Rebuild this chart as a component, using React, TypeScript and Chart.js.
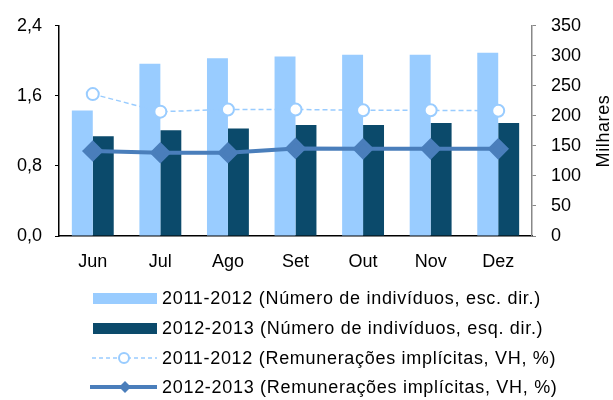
import React, { useEffect, useRef } from "react";
import { Chart, registerables } from "chart.js";

Chart.register(...registerables);

const months = ["Jun", "Jul", "Ago", "Set", "Out", "Nov", "Dez"];
const individuos1112 = [209, 287, 296, 299, 302, 302, 305];
const individuos1213 = [166, 176, 179, 185, 185, 188, 188];
const remun1112 = [1.62, 1.42, 1.445, 1.445, 1.435, 1.435, 1.43];
const remun1213 = [0.97, 0.95, 0.95, 1.0, 0.995, 0.995, 0.995];

const legendLabels = [
  "2011-2012 (Número de indivíduos, esc. dir.)",
  "2012-2013 (Número de indivíduos, esq. dir.)",
  "2011-2012 (Remunerações implícitas, VH, %)",
  "2012-2013 (Remunerações implícitas, VH, %)",
];
const rightAxisTitle = "Milhares";

const LIGHT = "#99CCFF";
const DARK = "#0B4A6B";
const LINE = "#4A7EBB";
const FONT = "'Liberation Sans', Arial, sans-serif";

export default function App() {
  const ref = useRef<HTMLCanvasElement | null>(null);

  useEffect(() => {
    if (!ref.current) return;
    const chart = new Chart(ref.current, {
      type: "bar",
      data: {
        labels: months,
        datasets: [
          {
            type: "line",
            label: legendLabels[2],
            data: remun1112,
            yAxisID: "y",
            borderColor: LIGHT,
            borderWidth: 1.5,
            borderDash: [5, 3],
            pointStyle: "circle",
            pointRadius: 6,
            pointBackgroundColor: "#ffffff",
            pointBorderColor: LIGHT,
            pointBorderWidth: 2,
            order: 0,
          },
          {
            type: "line",
            label: legendLabels[3],
            data: remun1213,
            yAxisID: "y",
            borderColor: LINE,
            borderWidth: 4,
            pointStyle: "rectRot",
            pointRadius: 8,
            pointBackgroundColor: LINE,
            pointBorderColor: LINE,
            order: 0,
          },
          {
            type: "bar",
            label: legendLabels[0],
            data: individuos1112,
            yAxisID: "y1",
            backgroundColor: LIGHT,
            barPercentage: 1,
            categoryPercentage: 0.62,
            order: 1,
          },
          {
            type: "bar",
            label: legendLabels[1],
            data: individuos1213,
            yAxisID: "y1",
            backgroundColor: DARK,
            barPercentage: 1,
            categoryPercentage: 0.62,
            order: 1,
          },
        ],
      },
      options: {
        responsive: false,
        animation: false,
        layout: { padding: { top: 25, left: 0, right: 0, bottom: 0 } },
        plugins: { legend: { display: false }, tooltip: { enabled: false } },
        scales: {
          x: {
            grid: { display: false, drawTicks: false },
            border: { display: true, color: "#000000", width: 1.5 },
            ticks: { color: "#000", font: { family: FONT, size: 18 }, padding: 15 },
            afterFit: (s: any) => {
              s.height = 44;
            },
          },
          y: {
            position: "left",
            min: 0,
            max: 2.4,
            grid: { drawOnChartArea: false, drawTicks: true, tickLength: 4, color: "#000" },
            border: { display: true, color: "#000000", width: 1.5 },
            ticks: {
              stepSize: 0.8,
              color: "#000",
              padding: 13,
              font: { family: FONT, size: 18 },
              callback: (v: any) => Number(v).toFixed(1).replace(".", ","),
            },
            afterFit: (s: any) => {
              s.width = 59;
            },
          },
          y1: {
            position: "right",
            min: 0,
            max: 350,
            grid: { drawOnChartArea: false, drawTicks: true, tickLength: 4, color: "#888" },
            border: { display: true, color: "#888888", width: 1.5 },
            ticks: {
              stepSize: 50,
              color: "#000",
              padding: 15,
              font: { family: FONT, size: 18 },
            },
            afterFit: (s: any) => {
              s.width = 81;
            },
          },
        },
      },
    });
    return () => chart.destroy();
  }, []);

  const textStyle: React.CSSProperties = {
    position: "absolute",
    left: 162,
    fontFamily: FONT,
    fontSize: 18,
    color: "#000",
    whiteSpace: "nowrap",
    lineHeight: "20px",
    letterSpacing: "0.7px",
  };
  const rows = [298, 328, 358, 387];

  return (
    <div style={{ position: "absolute", left: 0, top: 0, width: 613, height: 400, background: "#fff" }}>
      <canvas ref={ref} width={613} height={280} style={{ position: "absolute", left: 0, top: 0 }} />
      <div
        style={{
          position: "absolute",
          left: 603,
          top: 131,
          transform: "translate(-50%, -50%) rotate(-90deg)",
          fontFamily: FONT,
          fontSize: 18,
          color: "#000",
          whiteSpace: "nowrap",
          lineHeight: "20px",
          letterSpacing: "0.6px",
        }}
      >
        {rightAxisTitle}
      </div>
      <svg width={613} height={400} style={{ position: "absolute", left: 0, top: 0 }}>
        <rect x={93} y={rows[0] - 5} width={64} height={11} fill={LIGHT} />
        <rect x={93} y={rows[1] - 5} width={64} height={11} fill={DARK} />
        <line x1={92} y1={rows[2]} x2={157} y2={rows[2]} stroke={LIGHT} strokeWidth={1.5} strokeDasharray="4 3" />
        <circle cx={124} cy={rows[2]} r={5} fill="#fff" stroke={LIGHT} strokeWidth={2} />
        <line x1={90} y1={rows[3]} x2={157} y2={rows[3]} stroke={LINE} strokeWidth={4} />
        <polygon
          points={`125,${rows[3] - 6} 131,${rows[3]} 125,${rows[3] + 6} 119,${rows[3]}`}
          fill={LINE}
        />
      </svg>
      {legendLabels.map((t, i) => (
        <div key={i} style={{ ...textStyle, top: rows[i] - 10 }}>
          {t}
        </div>
      ))}
    </div>
  );
}
